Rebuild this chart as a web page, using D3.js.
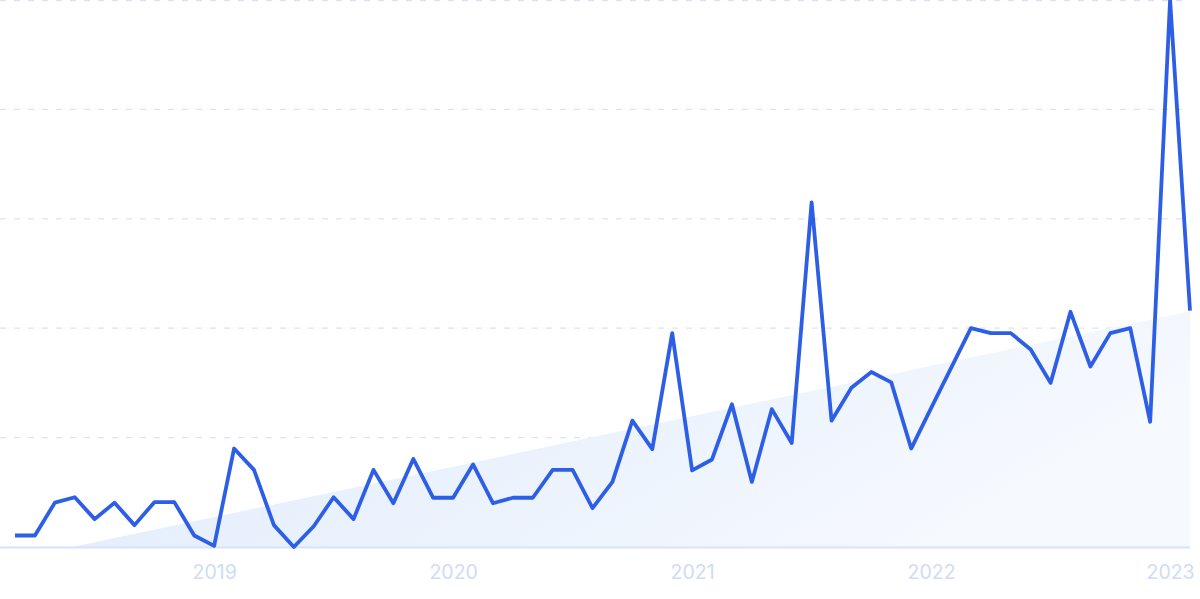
<!DOCTYPE html>
<html>
<head>
<meta charset="utf-8">
<script src="https://cdn.jsdelivr.net/npm/d3@7"></script>
<style>
  html, body { margin: 0; padding: 0; background: #ffffff; }
  svg { display: block; }
</style>
</head>
<body>
<svg id="chart" width="1200" height="599"></svg>
<script>
// Monthly series, Mar 2018 – Feb 2023
const months = d3.range(60).map(i => new Date(2018, 2 + i, 1));
const values = [
  2.1, 2.1, 8.1, 9.1, 5.1, 8.1, 4.0, 8.2, 8.2, 2.1,
  0.2, 18.0, 14.1, 4.0, 0.0, 3.8, 9.1, 5.1, 14.1, 8.0,
  16.1, 9.0, 9.0, 15.1, 8.0, 9.0, 9.0, 14.1, 14.1, 7.1,
  11.9, 23.1, 17.9, 39.1, 14.0, 16.0, 26.1, 11.9, 25.2, 19.0,
  63.0, 23.1, 29.1, 32.0, 30.1, 18.0, 25.4, 32.7, 40.0, 39.1,
  39.1, 36.1, 30.0, 43.0, 33.0, 39.1, 40.0, 22.9, 100.0, 43.2
];
const trendEnds = [-2.2, 43.1];          // trend value at first and last month
const yTicks = [0, 20, 40, 60, 80, 100];
const yearLabels = ["2019", "2020", "2021", "2022", "2023"];

const svg = d3.select("#chart");
const x = d3.scalePoint().domain(d3.range(months.length)).range([15, 1190]);
const y = d3.scaleLinear().domain([0, 100]).range([547, 0]);

// gradient for trend area
const defs = svg.append("defs");
const grad = defs.append("linearGradient")
  .attr("id", "trendGrad").attr("x1", "0").attr("y1", "0").attr("x2", "1").attr("y2", "0.35");
grad.append("stop").attr("offset", "0%").attr("stop-color", "#dce9fb");
grad.append("stop").attr("offset", "100%").attr("stop-color", "#f6f9fe");
defs.append("clipPath").attr("id", "plotClip")
  .append("rect").attr("x", 0).attr("y", -5).attr("width", 1200).attr("height", y(0) + 5);

// gridlines
svg.append("g")
  .selectAll("line")
  .data(yTicks.filter(d => d > 0))
  .join("line")
  .attr("x1", 0).attr("x2", 1186)
  .attr("y1", d => Math.max(0.6, y(d))).attr("y2", d => Math.max(0.6, y(d)))
  .attr("stroke", "#d9e4fb")
  .attr("stroke-width", 1.3)
  .attr("stroke-dasharray", "6,8");

// trend area
const trendPts = [
  { i: 0, v: trendEnds[0] },
  { i: months.length - 1, v: trendEnds[1] }
];
const trendArea = d3.area()
  .x(d => x(d.i))
  .y0(y(0))
  .y1(d => y(d.v));
svg.append("path")
  .datum(trendPts)
  .attr("clip-path", "url(#plotClip)")
  .attr("d", trendArea)
  .attr("fill", "url(#trendGrad)");

// baseline
svg.append("line")
  .attr("x1", 0).attr("x2", 1190)
  .attr("y1", y(0) + 0.5).attr("y2", y(0) + 0.5)
  .attr("stroke", "#d6e4fb").attr("stroke-width", 2);

// x axis (year labels at January)
const janIdx = months.map((m, i) => m.getMonth() === 0 ? i : -1).filter(i => i >= 0);
const xAxis = d3.axisBottom(x)
  .tickValues(janIdx)
  .tickFormat((d, k) => yearLabels[k])
  .tickSize(0)
  .tickPadding(0);
const gx = svg.append("g").attr("transform", `translate(0,${y(0)})`).call(xAxis);
gx.select(".domain").remove();
gx.selectAll("text")
  .attr("dy", null)
  .attr("y", 32)
  .attr("fill", "#d0dbf5")
  .style("font-family", "Inter, 'Open Sans', sans-serif")
  .style("font-size", "19.5px");

// main line
const line = d3.line()
  .x((d, i) => x(i))
  .y(d => y(d));
svg.append("path")
  .datum(values)
  .attr("d", line)
  .attr("fill", "none")
  .attr("stroke", "#2d5ee6")
  .attr("stroke-width", 3.8)
  .attr("stroke-linejoin", "round")
  .attr("stroke-linecap", "butt");
</script>
</body>
</html>
